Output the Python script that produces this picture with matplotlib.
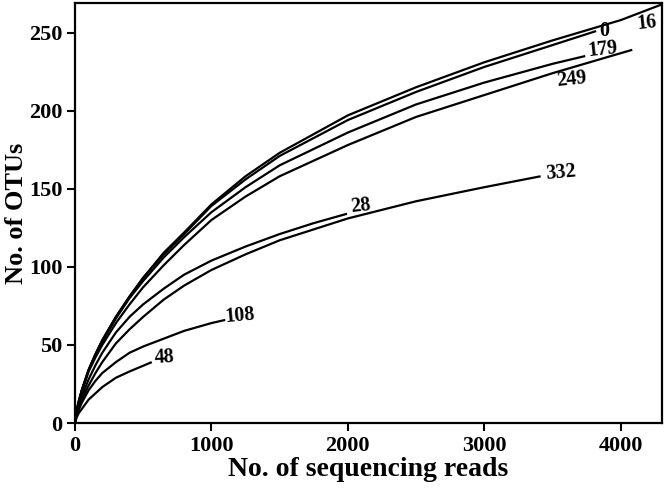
import matplotlib
matplotlib.use("Agg")
import matplotlib.pyplot as plt

plt.rcParams["font.family"] = ["Liberation Serif", "DejaVu Serif"]
plt.rcParams["font.weight"] = "bold"

# rarefaction curves (reads, OTUs)
x_16 = [0, 10, 25, 50, 100, 150, 200, 300, 400, 500, 650, 800, 1000, 1250, 1500, 2000, 2500, 3000, 3500, 4000, 4300]
y_16 = [0, 7, 13, 21, 34, 44, 53, 68, 81, 93, 109, 122, 140, 158, 173, 197, 215, 231, 245, 258, 268]

x_0 = [0, 10, 25, 50, 100, 150, 200, 300, 400, 500, 650, 800, 1000, 1250, 1500, 2000, 2500, 3000, 3500, 3820]
y_0 = [0, 7, 13, 21, 34, 44, 53, 68, 81, 93, 108, 121, 139, 156, 171, 194, 212, 228, 242, 251]

x_179 = [0, 10, 25, 50, 100, 150, 200, 300, 400, 500, 650, 800, 1000, 1250, 1500, 2000, 2500, 3000, 3500, 3740]
y_179 = [0, 7, 13, 21, 34, 44, 52, 67, 80, 91, 106, 119, 135, 151, 165, 186, 204, 218, 230, 235]

x_249 = [0, 10, 25, 50, 100, 150, 200, 300, 400, 500, 650, 800, 1000, 1250, 1500, 2000, 2500, 3000, 3500, 4085]
y_249 = [0, 7, 12, 20, 33, 42, 50, 64, 76, 87, 101, 114, 130, 145, 158, 178, 196, 210, 224, 239]

x_28 = [0, 10, 25, 50, 100, 150, 200, 300, 400, 500, 650, 800, 1000, 1250, 1500, 1750, 1994]
y_28 = [0, 6, 11, 17, 28, 37, 45, 58, 68, 76, 86, 95, 104, 113, 121, 128, 134]

x_332 = [0, 10, 25, 50, 100, 150, 200, 300, 400, 500, 650, 800, 1000, 1250, 1500, 2000, 2500, 3000, 3413]
y_332 = [0, 5, 9, 15, 24, 32, 39, 51, 60, 68, 79, 88, 98, 108, 117, 131, 142, 151, 158]

x_108 = [0, 10, 25, 50, 100, 150, 200, 300, 400, 500, 650, 800, 1000, 1101]
y_108 = [0, 4, 8, 13, 21, 27, 32, 39, 45, 49, 54, 59, 64, 66]

x_48 = [0, 10, 25, 50, 100, 150, 200, 300, 400, 563]
y_48 = [0, 3, 6, 9, 15, 19, 23, 29, 33, 39]

series = [
    ("16", x_16, y_16, (4190, 256), 6),
    ("0", x_0, y_0, (3883, 251), 0),
    ("179", x_179, y_179, (3868, 239), 6),
    ("249", x_249, y_249, (3640, 220), 6),
    ("28", x_28, y_28, (2090, 139), 6),
    ("332", x_332, y_332, (3560, 160), 5),
    ("108", x_108, y_108, (1211, 69), 5),
    ("48", x_48, y_48, (653, 42), 3),
]

fig = plt.figure(figsize=(6.66, 4.9), dpi=100)
ax = fig.add_axes([0.1126, 0.1367, 0.8808, 0.8573])

for name, xs, ys, (tx, ty), rot in series:
    ax.plot(xs, ys, color="black", linewidth=1.6, solid_capstyle="butt")
    ax.text(tx, ty, name, fontsize=14.5, fontweight="bold", ha="center", va="center",
            rotation=rot)

ax.set_xlim(0, 4300)
ax.set_ylim(0, 269)
ax.set_xticks([0, 1000, 2000, 3000, 4000])
ax.set_yticks([0, 50, 100, 150, 200, 250])
ax.tick_params(axis="both", direction="out", length=6, width=1.5, labelsize=16, pad=3)
ax.tick_params(top=False, right=False)
for sp in ax.spines.values():
    sp.set_linewidth(1.6)
for lab in ax.get_xticklabels() + ax.get_yticklabels():
    lab.set_fontweight("bold")

ax.set_xlabel("No. of sequencing reads", fontsize=20, fontweight="bold")
ax.set_ylabel("No. of OTUs", fontsize=19, fontweight="bold")
ax.yaxis.set_label_coords(-0.08, 0.5)
ax.xaxis.set_label_coords(0.5, -0.08)

fig.savefig("out.png", dpi=100)
